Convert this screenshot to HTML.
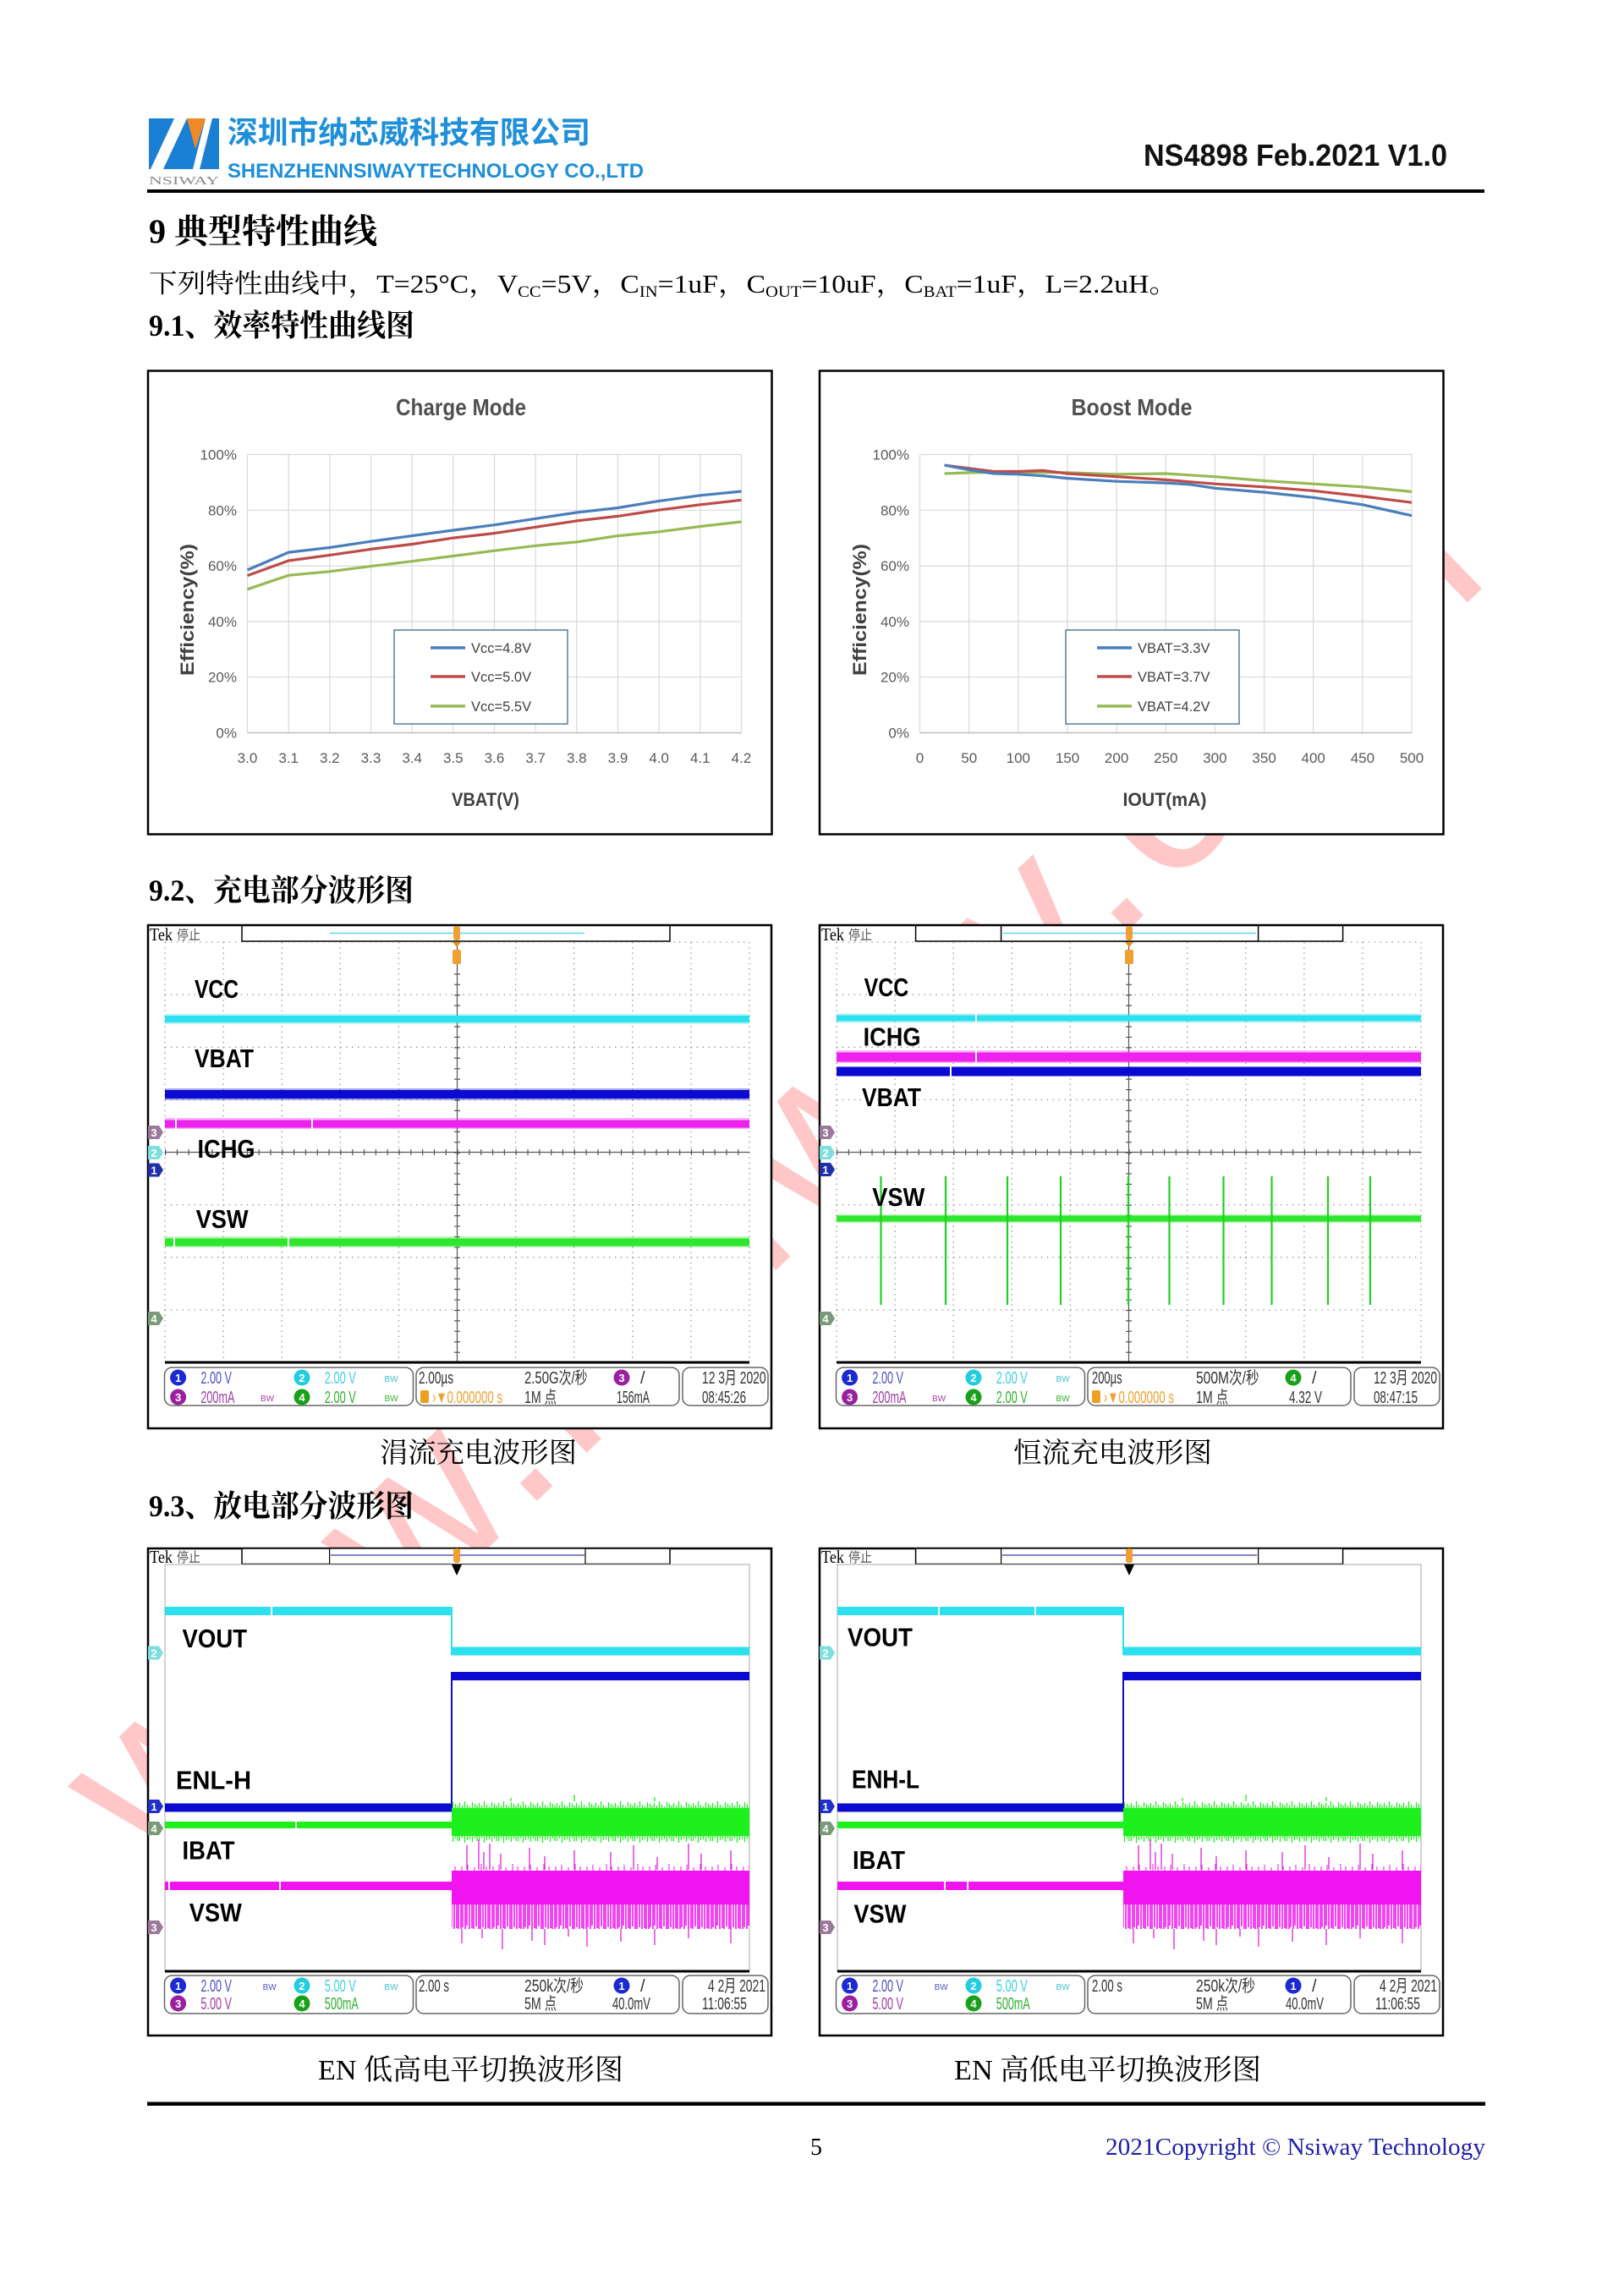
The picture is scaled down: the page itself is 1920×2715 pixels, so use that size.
<!DOCTYPE html>
<html><head><meta charset="utf-8"><style>
html,body{margin:0;padding:0;background:#fff;}
svg{display:block;}
</style></head><body>
<svg width="1920" height="2715" viewBox="0 0 1920 2715" xmlns="http://www.w3.org/2000/svg" xmlns:xlink="http://www.w3.org/1999/xlink">
<style>
.s{font-family:'Liberation Serif','Noto Serif CJK SC',serif;}
.a{font-family:'Liberation Sans','Noto Sans CJK SC',sans-serif;}
.lb{font-family:'Liberation Sans',sans-serif;font-weight:bold;font-size:31px;fill:#000;}
.i{font-family:'Liberation Sans','Noto Sans CJK SC',sans-serif;font-size:20px;}
.n{font-family:'Liberation Sans',sans-serif;font-size:13px;fill:#fff;text-anchor:middle;font-weight:bold;}
.bw{font-family:'Liberation Sans',sans-serif;font-size:10px;}
.tk{font-family:'Liberation Sans',sans-serif;font-size:17px;fill:#595959;}
.lg{font-family:'Liberation Sans',sans-serif;font-size:16.5px;fill:#404040;}
</style>
<defs>
<g id="grat">
 <g stroke="#8a8a8a" stroke-width="1.3" fill="none" stroke-dasharray="1.3 5.61">
  <path d="M21 21H712M21 83.1H712M21 145.3H712M21 207.4H712M21 331.6H712M21 393.8H712M21 455.9H712"/>
 </g>
 <g stroke="#8a8a8a" stroke-width="1.3" fill="none" stroke-dasharray="1.3 4.91">
  <path d="M21 21V518M90.1 21V518M159.2 21V518M228.3 21V518M297.4 21V518M435.6 21V518M504.7 21V518M573.8 21V518M642.9 21V518M712 21V518"/>
 </g>
 <path d="M366.5 21V518M21 269.5H712" stroke="#555" stroke-width="1.2" fill="none"/>
 <path d="M21 269.5H712" stroke="#555" stroke-width="7" stroke-dasharray="1.2 12.62" fill="none"/>
 <path d="M366.5 21V518" stroke="#555" stroke-width="7" stroke-dasharray="1.2 11.225" fill="none"/>
 <path d="M21 518H712" stroke="#000" stroke-width="3"/>
</g>
<pattern id="gb" x="0" y="300" width="23" height="50" patternUnits="userSpaceOnUse">
 <rect x="0" y="8" width="23" height="33" fill="#1ef01e"/>
 <path d="M1.5 2V47M4.5 5V44M7.5 0V49M10.5 4V46M13.5 6V45M16.5 1V48M19.5 3V44M22 5V47" stroke="#1ef01e" stroke-width="1.3"/>
</pattern>
<pattern id="mb" x="0" y="350" width="37" height="122" patternUnits="userSpaceOnUse">
 <rect x="0" y="32" width="37" height="40" fill="#f014f0"/>
 <path d="M1 72V101M3 72V99M6 72V101M8 72V97M11 72V101M14 72V100M16 72V101M19 72V98M22 72V101M24 72V101M27 72V99M30 72V101M33 72V100M35 72V101" stroke="#f014f0" stroke-width="1.6"/>
 <path d="M2 27V32M9 25V32M17 28V32M25 24V32M31 27V32" stroke="#f014f0" stroke-width="1"/>
</pattern>
<g id="sw">
 <rect x="360" y="300" width="352" height="50" fill="url(#gb)"/>
 <path d="M505 300V292M430 300V296M600 300V295" stroke="#1ef01e" stroke-width="1.3"/>
 <rect x="360" y="350" width="352" height="122" fill="url(#mb)"/>
 <path d="M378 381V352M392 381V345M398 381V360M405 381V350M418 381V362M452 381V355M470 381V365M505 381V358M548 381V360M575 381V352M603 381V366M640 381V350M655 381V362M690 381V358" stroke="#e020e0" stroke-width="1.3"/>
 <path d="M372 451V468M396 451V462M420 451V475M455 451V465M470 451V470M498 451V460M520 451V472M560 451V466M600 451V470M640 451V462M690 451V468" stroke="#e020e0" stroke-width="1.3"/>
</g>
</defs>

<rect width="1920" height="2715" fill="#fff"/>

<!-- watermark -->
<text transform="translate(179,2215) rotate(-44)" font-family="'Liberation Sans',sans-serif" font-size="270" letter-spacing="13" fill="#ff2020" fill-opacity="0.25">www.nsiway.com</text>

<!-- header -->
<rect x="176" y="140" width="83" height="60" fill="#1b7fd4"/>
<polygon points="206,140 221,140 193,200 178,200" fill="#fff"/>
<polygon points="221,140 243,140 231,176" fill="#f08a24"/>
<polygon points="243,140 251,140 236,200 228,200" fill="#fff"/>
<text x="176" y="218" class="s" font-size="14" fill="#8a8a8a" textLength="83" lengthAdjust="spacingAndGlyphs">NSIWAY</text>
<text x="269" y="169" class="a" font-weight="bold" font-size="36" fill="#1e8fd8" textLength="429" lengthAdjust="spacingAndGlyphs">深圳市纳芯威科技有限公司</text>
<text x="269" y="210" class="a" font-weight="bold" font-size="24" fill="#1e8fd8" textLength="492" lengthAdjust="spacingAndGlyphs">SHENZHENNSIWAYTECHNOLOGY CO.,LTD</text>
<text x="1352" y="196" class="a" font-weight="bold" font-size="36" fill="#111" textLength="359" lengthAdjust="spacingAndGlyphs">NS4898 Feb.2021 V1.0</text>
<rect x="174" y="224" width="1581" height="4" fill="#000"/>

<text x="176" y="287" class="s" font-weight="bold" font-size="40" fill="#000" textLength="270" lengthAdjust="spacingAndGlyphs">9 典型特性曲线</text>
<text x="176" y="346" class="s" font-size="31" fill="#000" textLength="1216" lengthAdjust="spacingAndGlyphs">下列特性曲线中，T=25°C，V<tspan dy="5" font-size="19">CC</tspan><tspan dy="-5">=5V，C</tspan><tspan dy="5" font-size="19">IN</tspan><tspan dy="-5">=1uF，C</tspan><tspan dy="5" font-size="19">OUT</tspan><tspan dy="-5">=10uF，C</tspan><tspan dy="5" font-size="19">BAT</tspan><tspan dy="-5">=1uF，L=2.2uH。</tspan></text>
<text x="176" y="397" class="s" font-weight="bold" font-size="36" fill="#000" textLength="314" lengthAdjust="spacingAndGlyphs">9.1、效率特性曲线图</text>

<!-- Charge mode chart -->
<rect x="175" y="438.5" width="737.5" height="548" fill="#fff" stroke="#000" stroke-width="2.5"/>
<text x="545" y="491" text-anchor="middle" class="a" font-weight="bold" font-size="28" fill="#505050" textLength="154" lengthAdjust="spacingAndGlyphs">Charge Mode</text>
<g stroke="#d9d9d9" stroke-width="1.2" fill="none">
<path d="M292.5 537.5V866.5M341.2 537.5V866.5M389.8 537.5V866.5M438.5 537.5V866.5M487.2 537.5V866.5M535.8 537.5V866.5M584.5 537.5V866.5M633.2 537.5V866.5M681.8 537.5V866.5M730.5 537.5V866.5M779.2 537.5V866.5M827.8 537.5V866.5M876.5 537.5V866.5"/>
<path d="M292.5 537.5H876.5M292.5 603.3H876.5M292.5 669.1H876.5M292.5 734.9H876.5M292.5 800.7H876.5"/>
</g>
<path d="M292.5 866.5H876.5" stroke="#bfbfbf" stroke-width="1.5"/>
<g class="tk" text-anchor="end">
<text x="280" y="543.5">100%</text><text x="280" y="609.3">80%</text><text x="280" y="675.1">60%</text><text x="280" y="740.9">40%</text><text x="280" y="806.7">20%</text><text x="280" y="872.5">0%</text>
</g>
<g class="tk" text-anchor="middle">
<text x="292.5" y="902">3.0</text><text x="341.2" y="902">3.1</text><text x="389.8" y="902">3.2</text><text x="438.5" y="902">3.3</text><text x="487.2" y="902">3.4</text><text x="535.8" y="902">3.5</text><text x="584.5" y="902">3.6</text><text x="633.2" y="902">3.7</text><text x="681.8" y="902">3.8</text><text x="730.5" y="902">3.9</text><text x="779.2" y="902">4.0</text><text x="827.8" y="902">4.1</text><text x="876.5" y="902">4.2</text>
</g>
<text x="574" y="953" text-anchor="middle" class="a" font-weight="bold" font-size="22" fill="#404040" textLength="80" lengthAdjust="spacingAndGlyphs">VBAT(V)</text>
<text transform="translate(229,721) rotate(-90)" text-anchor="middle" class="a" font-weight="bold" font-size="22" fill="#404040" textLength="156" lengthAdjust="spacingAndGlyphs">Efficiency(%)</text>
<g fill="none" stroke-width="3.2" stroke-linejoin="round">
<polyline stroke="#98b954" points="292.5,696.8 341.2,680.3 389.8,675.8 438.5,669.6 487.2,663.7 535.8,657.5 584.5,651.2 633.2,645.3 681.8,640.9 730.5,633.6 779.2,628.8 827.8,622.5 876.5,617"/>
<polyline stroke="#be4b48" points="292.5,680.6 341.2,663 389.8,656.4 438.5,649.4 487.2,643.5 535.8,636.1 584.5,630.6 633.2,623.3 681.8,615.9 730.5,610.4 779.2,603.1 827.8,596.8 876.5,591.3"/>
<polyline stroke="#4a7ebb" points="292.5,674 341.2,653.1 389.8,647.5 438.5,640.2 487.2,633.6 535.8,627 584.5,620.7 633.2,613.3 681.8,606 730.5,600.5 779.2,592.4 827.8,585.8 876.5,581"/>
</g>
<rect x="466" y="745" width="205" height="111" fill="#fff" stroke="#5a7a9a" stroke-width="1.5"/>
<path d="M509 766H550" stroke="#4a7ebb" stroke-width="3.5"/>
<path d="M509 800H550" stroke="#be4b48" stroke-width="3.5"/>
<path d="M509 835H550" stroke="#98b954" stroke-width="3.5"/>
<text x="557" y="772" class="lg">Vcc=4.8V</text>
<text x="557" y="806" class="lg">Vcc=5.0V</text>
<text x="557" y="841" class="lg">Vcc=5.5V</text>

<!-- Boost mode chart -->
<rect x="969" y="438.5" width="737.5" height="548" fill="#fff" stroke="#000" stroke-width="2.5"/>
<text x="1338" y="491" text-anchor="middle" class="a" font-weight="bold" font-size="28" fill="#505050" textLength="143" lengthAdjust="spacingAndGlyphs">Boost Mode</text>
<g stroke="#d9d9d9" stroke-width="1.2" fill="none">
<path d="M1087.5 537.5V866.5M1145.7 537.5V866.5M1203.8 537.5V866.5M1262 537.5V866.5M1320.1 537.5V866.5M1378.3 537.5V866.5M1436.4 537.5V866.5M1494.6 537.5V866.5M1552.7 537.5V866.5M1610.9 537.5V866.5M1669 537.5V866.5"/>
<path d="M1087.5 537.5H1669M1087.5 603.3H1669M1087.5 669.1H1669M1087.5 734.9H1669M1087.5 800.7H1669"/>
</g>
<path d="M1087.5 866.5H1669" stroke="#bfbfbf" stroke-width="1.5"/>
<g class="tk" text-anchor="end">
<text x="1075" y="543.5">100%</text><text x="1075" y="609.3">80%</text><text x="1075" y="675.1">60%</text><text x="1075" y="740.9">40%</text><text x="1075" y="806.7">20%</text><text x="1075" y="872.5">0%</text>
</g>
<g class="tk" text-anchor="middle">
<text x="1087.5" y="902">0</text><text x="1145.7" y="902">50</text><text x="1203.8" y="902">100</text><text x="1262" y="902">150</text><text x="1320.1" y="902">200</text><text x="1378.3" y="902">250</text><text x="1436.4" y="902">300</text><text x="1494.6" y="902">350</text><text x="1552.7" y="902">400</text><text x="1610.9" y="902">450</text><text x="1669" y="902">500</text>
</g>
<text x="1377" y="953" text-anchor="middle" class="a" font-weight="bold" font-size="22" fill="#404040" textLength="99" lengthAdjust="spacingAndGlyphs">IOUT(mA)</text>
<text transform="translate(1024,721) rotate(-90)" text-anchor="middle" class="a" font-weight="bold" font-size="22" fill="#404040" textLength="156" lengthAdjust="spacingAndGlyphs">Efficiency(%)</text>
<g fill="none" stroke-width="3.2" stroke-linejoin="round">
<polyline stroke="#98b954" points="1116.6,560 1145.7,558.9 1203.8,558.2 1262,558.9 1320.1,560.8 1378.3,560 1436.4,563.7 1494.6,568.5 1552.7,572.2 1610.9,575.8 1669,581.4"/>
<polyline stroke="#be4b48" points="1116.6,550.1 1145.7,553.8 1174.7,557.5 1203.8,557.5 1232.9,556.4 1262,560 1320.1,563.7 1378.3,567.4 1436.4,572.2 1494.6,575.8 1552.7,580.3 1610.9,586.9 1669,594.2"/>
<polyline stroke="#4a7ebb" points="1116.6,550.1 1145.7,555.6 1174.7,560 1203.8,560.8 1232.9,562.6 1262,565.6 1320.1,569.2 1378.3,571.1 1407.4,572.9 1436.4,577.3 1494.6,582.1 1552.7,588.3 1610.9,596.8 1669,609.7"/>
</g>
<rect x="1260" y="745" width="205" height="111" fill="#fff" stroke="#5a7a9a" stroke-width="1.5"/>
<path d="M1297 766H1338" stroke="#4a7ebb" stroke-width="3.5"/>
<path d="M1297 800H1338" stroke="#be4b48" stroke-width="3.5"/>
<path d="M1297 835H1338" stroke="#98b954" stroke-width="3.5"/>
<text x="1345" y="772" class="lg">VBAT=3.3V</text>
<text x="1345" y="806" class="lg">VBAT=3.7V</text>
<text x="1345" y="841" class="lg">VBAT=4.2V</text>

<text x="176" y="1065" class="s" font-weight="bold" font-size="36" fill="#000" textLength="313" lengthAdjust="spacingAndGlyphs">9.2、充电部分波形图</text>

<!-- Scope 1 -->
<g transform="translate(174,1093)">
 <rect x="1" y="1" width="737" height="595" fill="#fff" stroke="#000" stroke-width="2.5"/>
 <text x="3" y="19" class="s" font-size="21" textLength="27" lengthAdjust="spacingAndGlyphs">Tek</text>
 <text x="35" y="18" class="a" font-size="16" fill="#555" textLength="28" lengthAdjust="spacingAndGlyphs">停止</text>
 <rect x="112" y="1.5" width="506" height="18.5" fill="#fff" stroke="#000" stroke-width="1.5"/>
 <path d="M216 10.5H517" stroke="#5ad8e6" stroke-width="1.5"/>
 <use xlink:href="#grat" href="#grat"/>
 <rect x="362" y="2" width="8" height="17" rx="3" fill="#f0a030"/>
 <path d="M361 21h10l-5 6z" fill="#e89020"/>
 <rect x="361" y="30" width="10" height="17" rx="2" fill="#f0a030"/>
 <rect x="21" y="106" width="691" height="12" fill="#2ee0ee" opacity="0.35"/>
 <rect x="21" y="108" width="691" height="8" fill="#2ee0ee"/>
 <rect x="21" y="194" width="691" height="14" fill="#0a0ad0" opacity="0.35"/>
 <rect x="21" y="196" width="691" height="10" fill="#0a0ad0"/>
 <rect x="21" y="229" width="691" height="13" fill="#ee22ee" opacity="0.35"/>
 <rect x="21" y="231.5" width="691" height="9" fill="#ee22ee"/>
 <rect x="33" y="229" width="2" height="13" fill="#fff"/><rect x="194" y="229" width="2" height="13" fill="#fff"/>
 <rect x="21" y="369" width="691" height="13" fill="#2ee62e" opacity="0.35"/>
 <rect x="21" y="371.5" width="691" height="9" fill="#2ee62e"/>
 <rect x="31" y="369" width="2" height="13" fill="#fff"/><rect x="166" y="369" width="2" height="13" fill="#fff"/>
 <text x="56" y="87" class="lb" textLength="52" lengthAdjust="spacingAndGlyphs">VCC</text>
 <text x="56" y="169" class="lb" textLength="70" lengthAdjust="spacingAndGlyphs">VBAT</text>
 <text x="59.5" y="276" class="lb" textLength="68" lengthAdjust="spacingAndGlyphs">ICHG</text>
 <text x="57.6" y="359" class="lb" textLength="62" lengthAdjust="spacingAndGlyphs">VSW</text>
 <path d="M1 238h13l5 8l-5 8h-13z" fill="#9a7a9a"/><text x="8" y="251" class="n">3</text>
 <path d="M1 262h13l5 8l-5 8h-13z" fill="#7fdede"/><text x="8" y="275" class="n">2</text>
 <path d="M1 282.5h13l5 8l-5 8h-13z" fill="#2030a8"/><text x="8" y="295.5" class="n">1</text>
 <path d="M1 458h13l5 8l-5 8h-13z" fill="#7a9a7a"/><text x="8" y="471" class="n">4</text>
 <g fill="#fff" stroke="#666" stroke-width="1.5">
  <rect x="20.5" y="524" width="294" height="45" rx="9"/><rect x="318" y="524" width="311" height="45" rx="9"/><rect x="633" y="524" width="101" height="45" rx="9"/>
 </g>
 <circle cx="36.6" cy="536" r="9.5" fill="#1a2ad0"/><text x="36.6" y="541" class="n">1</text>
 <text x="63.4" y="543" class="i" fill="#5050c0" textLength="36.6" lengthAdjust="spacingAndGlyphs">2.00 V</text>
 <circle cx="183" cy="536" r="9.5" fill="#22cde0"/><text x="183" y="541" class="n">2</text>
 <text x="209.8" y="543" class="i" fill="#40d0e0" textLength="37" lengthAdjust="spacingAndGlyphs">2.00 V</text>
 <text x="280.5" y="541" class="bw" fill="#40c0d0">BW</text>
 <text x="321" y="543" class="i" fill="#333" textLength="41" lengthAdjust="spacingAndGlyphs">2.00µs</text>
 <text x="446" y="543" class="i" fill="#333" textLength="74.6" lengthAdjust="spacingAndGlyphs">2.50G次/秒</text>
 <circle cx="561" cy="536" r="9.5" fill="#9a20a0"/><text x="561" y="541" class="n">3</text>
 <text x="583" y="543" class="i" fill="#333">/</text>
 <text x="656" y="543" class="i" fill="#333" textLength="75.6" lengthAdjust="spacingAndGlyphs">12 3月 2020</text>
 <circle cx="36.6" cy="559" r="9.5" fill="#9a20a0"/><text x="36.6" y="564" class="n">3</text>
 <text x="63.4" y="566" class="i" fill="#a040a8" textLength="40" lengthAdjust="spacingAndGlyphs">200mA</text>
 <text x="134" y="564" class="bw" fill="#a040a8">BW</text>
 <circle cx="183" cy="559" r="9.5" fill="#18a018"/><text x="183" y="564" class="n">4</text>
 <text x="209.8" y="566" class="i" fill="#30b030" textLength="37" lengthAdjust="spacingAndGlyphs">2.00 V</text>
 <text x="280.5" y="564" class="bw" fill="#30b030">BW</text>
 <rect x="323" y="551" width="10" height="15" rx="2" fill="#f0a020"/>
 <text x="337" y="566" class="i" fill="#f0a030" textLength="83" lengthAdjust="spacingAndGlyphs">›▼0.000000 s</text>
 <text x="446" y="566" class="i" fill="#333" textLength="38" lengthAdjust="spacingAndGlyphs">1M 点</text>
 <text x="555" y="566" class="i" fill="#333" textLength="39" lengthAdjust="spacingAndGlyphs">156mA</text>
 <text x="656" y="566" class="i" fill="#333" textLength="52" lengthAdjust="spacingAndGlyphs">08:45:26</text>
</g>

<!-- Scope 2 -->
<g transform="translate(968,1093)">
 <rect x="1" y="1" width="737" height="595" fill="#fff" stroke="#000" stroke-width="2.5"/>
 <text x="3" y="19" class="s" font-size="21" textLength="27" lengthAdjust="spacingAndGlyphs">Tek</text>
 <text x="35" y="18" class="a" font-size="16" fill="#555" textLength="28" lengthAdjust="spacingAndGlyphs">停止</text>
 <rect x="114.6" y="1.5" width="505" height="18.5" fill="#fff" stroke="#000" stroke-width="1.5"/>
 <rect x="215.6" y="1.5" width="304" height="18.5" fill="#fff" stroke="#000" stroke-width="1.5"/>
 <path d="M218 10.5H517" stroke="#5ad8e6" stroke-width="1.5"/>
 <use xlink:href="#grat" href="#grat"/>
 <rect x="363" y="2" width="8" height="17" rx="3" fill="#f0a030"/>
 <path d="M362 21h10l-5 6z" fill="#e89020"/>
 <rect x="362" y="30" width="10" height="17" rx="2" fill="#f0a030"/>
 <rect x="21" y="105.5" width="691" height="11" fill="#2ee0ee" opacity="0.35"/>
 <rect x="21" y="107.5" width="691" height="7" fill="#2ee0ee"/>
 <rect x="185" y="105" width="2" height="12" fill="#fff"/>
 <rect x="21" y="149" width="691" height="15" fill="#ee22ee" opacity="0.35"/>
 <rect x="21" y="151.5" width="691" height="11" fill="#ee22ee"/>
 <rect x="185" y="149" width="2" height="14" fill="#fff"/>
 <rect x="21" y="168.5" width="691" height="11" fill="#0a0ad0"/>
 <rect x="155" y="167" width="2" height="13" fill="#fff"/>
 <rect x="21" y="343" width="691" height="10" fill="#2ee62e" opacity="0.35"/>
 <rect x="21" y="344.5" width="691" height="7" fill="#2ee62e"/>
 <path d="M73.5 298V450M150 298V450M223 298V450M286 298V450M366 298V450M414.5 298V450M478.5 298V450M535.5 298V450M602 298V450M652 298V450" stroke="#20d020" stroke-width="2.2"/>
 <text x="53.6" y="85" class="lb" textLength="52.6" lengthAdjust="spacingAndGlyphs">VCC</text>
 <text x="52.6" y="143.6" class="lb" textLength="68" lengthAdjust="spacingAndGlyphs">ICHG</text>
 <text x="51" y="215" class="lb" textLength="70" lengthAdjust="spacingAndGlyphs">VBAT</text>
 <text x="63.3" y="333" class="lb" textLength="62" lengthAdjust="spacingAndGlyphs">VSW</text>
 <path d="M1 238h13l5 8l-5 8h-13z" fill="#9a7a9a"/><text x="8" y="251" class="n">3</text>
 <path d="M1 262h13l5 8l-5 8h-13z" fill="#7fdede"/><text x="8" y="275" class="n">2</text>
 <path d="M1 282h13l5 8l-5 8h-13z" fill="#2030a8"/><text x="8" y="295" class="n">1</text>
 <path d="M1 458h13l5 8l-5 8h-13z" fill="#7a9a7a"/><text x="8" y="471" class="n">4</text>
 <g fill="#fff" stroke="#666" stroke-width="1.5">
  <rect x="20.5" y="524" width="294" height="45" rx="9"/><rect x="318" y="524" width="311" height="45" rx="9"/><rect x="633" y="524" width="101" height="45" rx="9"/>
 </g>
 <circle cx="36.6" cy="536" r="9.5" fill="#1a2ad0"/><text x="36.6" y="541" class="n">1</text>
 <text x="63.4" y="543" class="i" fill="#5050c0" textLength="36.6" lengthAdjust="spacingAndGlyphs">2.00 V</text>
 <circle cx="183" cy="536" r="9.5" fill="#22cde0"/><text x="183" y="541" class="n">2</text>
 <text x="209.8" y="543" class="i" fill="#40d0e0" textLength="37" lengthAdjust="spacingAndGlyphs">2.00 V</text>
 <text x="280.5" y="541" class="bw" fill="#40c0d0">BW</text>
 <text x="323" y="543" class="i" fill="#333" textLength="35.6" lengthAdjust="spacingAndGlyphs">200µs</text>
 <text x="446" y="543" class="i" fill="#333" textLength="74.6" lengthAdjust="spacingAndGlyphs">500M次/秒</text>
 <circle cx="561" cy="536" r="9.5" fill="#18a018"/><text x="561" y="541" class="n">4</text>
 <text x="583" y="543" class="i" fill="#333">/</text>
 <text x="656" y="543" class="i" fill="#333" textLength="75" lengthAdjust="spacingAndGlyphs">12 3月 2020</text>
 <circle cx="36.6" cy="559" r="9.5" fill="#9a20a0"/><text x="36.6" y="564" class="n">3</text>
 <text x="63.4" y="566" class="i" fill="#a040a8" textLength="40" lengthAdjust="spacingAndGlyphs">200mA</text>
 <text x="134" y="564" class="bw" fill="#a040a8">BW</text>
 <circle cx="183" cy="559" r="9.5" fill="#18a018"/><text x="183" y="564" class="n">4</text>
 <text x="209.8" y="566" class="i" fill="#30b030" textLength="37" lengthAdjust="spacingAndGlyphs">2.00 V</text>
 <text x="280.5" y="564" class="bw" fill="#30b030">BW</text>
 <rect x="323" y="551" width="10" height="15" rx="2" fill="#f0a020"/>
 <text x="337" y="566" class="i" fill="#f0a030" textLength="83" lengthAdjust="spacingAndGlyphs">›▼0.000000 s</text>
 <text x="446" y="566" class="i" fill="#333" textLength="38" lengthAdjust="spacingAndGlyphs">1M 点</text>
 <text x="556" y="566" class="i" fill="#333" textLength="39" lengthAdjust="spacingAndGlyphs">4.32 V</text>
 <text x="656" y="566" class="i" fill="#333" textLength="52" lengthAdjust="spacingAndGlyphs">08:47:15</text>
</g>

<text x="449" y="1729" class="s" font-size="33" fill="#000" textLength="233" lengthAdjust="spacingAndGlyphs">涓流充电波形图</text>
<text x="1198" y="1729" class="s" font-size="33" fill="#000" textLength="235" lengthAdjust="spacingAndGlyphs">恒流充电波形图</text>

<text x="176" y="1793" class="s" font-weight="bold" font-size="36" fill="#000" textLength="313" lengthAdjust="spacingAndGlyphs">9.3、放电部分波形图</text>

<!-- Scope 3 -->
<g transform="translate(174,1830)">
 <rect x="1" y="1" width="737" height="576" fill="#fff" stroke="#000" stroke-width="2.5"/>
 <text x="3" y="18" class="s" font-size="21" textLength="27" lengthAdjust="spacingAndGlyphs">Tek</text>
 <text x="35" y="17" class="a" font-size="16" fill="#555" textLength="28" lengthAdjust="spacingAndGlyphs">停止</text>
 <rect x="112" y="1" width="506" height="18.5" fill="#fff" stroke="#000" stroke-width="1.5"/>
 <rect x="215.6" y="1" width="302.4" height="18.5" fill="#fff" stroke="#000" stroke-width="1.2"/>
 <path d="M217 9H517" stroke="#3a3aa8" stroke-width="1.2"/>
 <rect x="21" y="20" width="691" height="481" fill="none" stroke="#aaa" stroke-width="1"/>
 <path d="M21 501H712" stroke="#000" stroke-width="3"/>
 <rect x="362" y="1" width="8" height="17" rx="3" fill="#f0a030"/>
 <path d="M360 20h12l-6 13z" fill="#000"/>
 <rect x="21" y="70" width="339" height="10" fill="#2ee0ee"/>
 <rect x="146" y="68" width="2" height="14" fill="#fff"/>
 <rect x="360" y="117.5" width="352" height="10" fill="#2ee0ee"/>
 <path d="M360 70V127" stroke="#2ee0ee" stroke-width="2"/>
 <rect x="360" y="147" width="352" height="10" fill="#0a0ad0"/>
 <path d="M360 147V312" stroke="#1010c0" stroke-width="2"/>
 <rect x="21" y="302.5" width="339" height="10" fill="#0a0ad0"/>
 <rect x="21" y="324" width="339" height="8" fill="#1ef01e"/>
 <rect x="175" y="322" width="2" height="12" fill="#fff"/>
 <rect x="21" y="395" width="339" height="10" fill="#f014f0"/>
 <rect x="25" y="393" width="2" height="14" fill="#fff"/><rect x="156" y="393" width="2" height="14" fill="#fff"/>
 <use xlink:href="#sw" href="#sw"/>
 <text x="41.5" y="118" class="lb" textLength="76.6" lengthAdjust="spacingAndGlyphs">VOUT</text>
 <text x="34" y="285.4" class="lb" textLength="89" lengthAdjust="spacingAndGlyphs">ENL-H</text>
 <text x="41.5" y="368.4" class="lb" textLength="62" lengthAdjust="spacingAndGlyphs">IBAT</text>
 <text x="49.8" y="442" class="lb" textLength="62" lengthAdjust="spacingAndGlyphs">VSW</text>
 <path d="M1 116.5h13l5 8l-5 8h-13z" fill="#7fdede"/><text x="8" y="129.5" class="n">2</text>
 <path d="M1 298h13l5 8l-5 8h-13z" fill="#2030c8"/><text x="8" y="311" class="n">1</text>
 <path d="M1 324h13l5 8l-5 8h-13z" fill="#7a9a7a"/><text x="8" y="337" class="n">4</text>
 <path d="M1 441h13l5 8l-5 8h-13z" fill="#9a7a9a"/><text x="8" y="454" class="n">3</text>
 <g fill="#fff" stroke="#666" stroke-width="1.5">
  <rect x="20.5" y="506" width="294" height="45" rx="9"/><rect x="318" y="506" width="311" height="45" rx="9"/><rect x="633" y="506" width="101" height="45" rx="9"/>
 </g>
 <circle cx="36.6" cy="518" r="9.5" fill="#1a2ad0"/><text x="36.6" y="523" class="n">1</text>
 <text x="63.4" y="525" class="i" fill="#5050c0" textLength="36.6" lengthAdjust="spacingAndGlyphs">2.00 V</text>
 <text x="136.6" y="523" class="bw" fill="#5050c0">BW</text>
 <circle cx="183" cy="518" r="9.5" fill="#22cde0"/><text x="183" y="523" class="n">2</text>
 <text x="209.8" y="525" class="i" fill="#40d0e0" textLength="37" lengthAdjust="spacingAndGlyphs">5.00 V</text>
 <text x="280.5" y="523" class="bw" fill="#40c0d0">BW</text>
 <text x="321" y="525" class="i" fill="#333" textLength="36" lengthAdjust="spacingAndGlyphs">2.00 s</text>
 <text x="446" y="525" class="i" fill="#333" textLength="70" lengthAdjust="spacingAndGlyphs">250k次/秒</text>
 <circle cx="561" cy="518" r="9.5" fill="#1a2ad0"/><text x="561" y="523" class="n">1</text>
 <text x="583" y="525" class="i" fill="#333">/</text>
 <text x="663" y="525" class="i" fill="#333" textLength="68" lengthAdjust="spacingAndGlyphs">4 2月 2021</text>
 <circle cx="36.6" cy="539" r="9.5" fill="#9a20a0"/><text x="36.6" y="544" class="n">3</text>
 <text x="63.4" y="546" class="i" fill="#a040a8" textLength="36.6" lengthAdjust="spacingAndGlyphs">5.00 V</text>
 <circle cx="183" cy="539" r="9.5" fill="#18a018"/><text x="183" y="544" class="n">4</text>
 <text x="209.8" y="546" class="i" fill="#30b030" textLength="40" lengthAdjust="spacingAndGlyphs">500mA</text>
 <text x="446" y="546" class="i" fill="#333" textLength="38" lengthAdjust="spacingAndGlyphs">5M 点</text>
 <text x="550" y="546" class="i" fill="#333" textLength="45" lengthAdjust="spacingAndGlyphs">40.0mV</text>
 <text x="656" y="546" class="i" fill="#333" textLength="53" lengthAdjust="spacingAndGlyphs">11:06:55</text>
</g>

<!-- Scope 4 -->
<g transform="translate(968,1830)">
 <rect x="1" y="1" width="737" height="576" fill="#fff" stroke="#000" stroke-width="2.5"/>
 <text x="3" y="18" class="s" font-size="21" textLength="27" lengthAdjust="spacingAndGlyphs">Tek</text>
 <text x="35" y="17" class="a" font-size="16" fill="#555" textLength="28" lengthAdjust="spacingAndGlyphs">停止</text>
 <rect x="114.6" y="1" width="505" height="18.5" fill="#fff" stroke="#000" stroke-width="1.5"/>
 <rect x="215.6" y="1" width="304" height="18.5" fill="#fff" stroke="#000" stroke-width="1.2"/>
 <path d="M217 9H518" stroke="#3a3aa8" stroke-width="1.2"/>
 <rect x="22" y="20" width="690" height="481" fill="none" stroke="#aaa" stroke-width="1"/>
 <path d="M22 501H712" stroke="#000" stroke-width="3"/>
 <rect x="363" y="1" width="8" height="17" rx="3" fill="#f0a030"/>
 <path d="M361 20h12l-6 13z" fill="#000"/>
 <rect x="22" y="70" width="338" height="10" fill="#2ee0ee"/>
 <rect x="141" y="68" width="2" height="14" fill="#fff"/><rect x="255" y="68" width="2" height="14" fill="#fff"/>
 <rect x="360" y="117.5" width="352" height="10" fill="#2ee0ee"/>
 <path d="M360 70V127" stroke="#2ee0ee" stroke-width="2"/>
 <rect x="360" y="147" width="352" height="10" fill="#0a0ad0"/>
 <path d="M360 147V312" stroke="#1010c0" stroke-width="2"/>
 <rect x="22" y="302.5" width="338" height="10" fill="#0a0ad0"/>
 <rect x="22" y="324" width="338" height="8" fill="#1ef01e"/>
 <rect x="22" y="395" width="338" height="10" fill="#f014f0"/>
 <rect x="148" y="393" width="2" height="14" fill="#fff"/><rect x="175" y="393" width="2" height="14" fill="#fff"/>
 <use xlink:href="#sw" href="#sw"/>
 <text x="34" y="116.6" class="lb" textLength="77" lengthAdjust="spacingAndGlyphs">VOUT</text>
 <text x="39" y="284.6" class="lb" textLength="80" lengthAdjust="spacingAndGlyphs">ENH-L</text>
 <text x="40" y="380" class="lb" textLength="62" lengthAdjust="spacingAndGlyphs">IBAT</text>
 <text x="41.4" y="443.5" class="lb" textLength="62" lengthAdjust="spacingAndGlyphs">VSW</text>
 <path d="M1 116.5h13l5 8l-5 8h-13z" fill="#7fdede"/><text x="8" y="129.5" class="n">2</text>
 <path d="M1 298h13l5 8l-5 8h-13z" fill="#2030c8"/><text x="8" y="311" class="n">1</text>
 <path d="M1 324h13l5 8l-5 8h-13z" fill="#7a9a7a"/><text x="8" y="337" class="n">4</text>
 <path d="M1 441h13l5 8l-5 8h-13z" fill="#9a7a9a"/><text x="8" y="454" class="n">3</text>
 <g fill="#fff" stroke="#666" stroke-width="1.5">
  <rect x="20.5" y="506" width="294" height="45" rx="9"/><rect x="318" y="506" width="311" height="45" rx="9"/><rect x="633" y="506" width="101" height="45" rx="9"/>
 </g>
 <circle cx="36.6" cy="518" r="9.5" fill="#1a2ad0"/><text x="36.6" y="523" class="n">1</text>
 <text x="63.4" y="525" class="i" fill="#5050c0" textLength="36.6" lengthAdjust="spacingAndGlyphs">2.00 V</text>
 <text x="136.6" y="523" class="bw" fill="#5050c0">BW</text>
 <circle cx="183" cy="518" r="9.5" fill="#22cde0"/><text x="183" y="523" class="n">2</text>
 <text x="209.8" y="525" class="i" fill="#40d0e0" textLength="37" lengthAdjust="spacingAndGlyphs">5.00 V</text>
 <text x="280.5" y="523" class="bw" fill="#40c0d0">BW</text>
 <text x="323" y="525" class="i" fill="#333" textLength="36" lengthAdjust="spacingAndGlyphs">2.00 s</text>
 <text x="446" y="525" class="i" fill="#333" textLength="70" lengthAdjust="spacingAndGlyphs">250k次/秒</text>
 <circle cx="561" cy="518" r="9.5" fill="#1a2ad0"/><text x="561" y="523" class="n">1</text>
 <text x="583" y="525" class="i" fill="#333">/</text>
 <text x="663" y="525" class="i" fill="#333" textLength="68" lengthAdjust="spacingAndGlyphs">4 2月 2021</text>
 <circle cx="36.6" cy="539" r="9.5" fill="#9a20a0"/><text x="36.6" y="544" class="n">3</text>
 <text x="63.4" y="546" class="i" fill="#a040a8" textLength="36.6" lengthAdjust="spacingAndGlyphs">5.00 V</text>
 <circle cx="183" cy="539" r="9.5" fill="#18a018"/><text x="183" y="544" class="n">4</text>
 <text x="209.8" y="546" class="i" fill="#30b030" textLength="40" lengthAdjust="spacingAndGlyphs">500mA</text>
 <text x="446" y="546" class="i" fill="#333" textLength="38" lengthAdjust="spacingAndGlyphs">5M 点</text>
 <text x="552" y="546" class="i" fill="#333" textLength="45" lengthAdjust="spacingAndGlyphs">40.0mV</text>
 <text x="658" y="546" class="i" fill="#333" textLength="53" lengthAdjust="spacingAndGlyphs">11:06:55</text>
</g>

<text x="376" y="2459" class="s" font-size="34" fill="#000" textLength="361" lengthAdjust="spacingAndGlyphs">EN 低高电平切换波形图</text>
<text x="1128" y="2459" class="s" font-size="34" fill="#000" textLength="363" lengthAdjust="spacingAndGlyphs">EN 高低电平切换波形图</text>

<!-- footer -->
<rect x="174" y="2485.5" width="1582" height="4.5" fill="#000"/>
<text x="958" y="2548" class="s" font-size="28" fill="#000">5</text>
<text x="1307" y="2548" class="s" font-size="28" fill="#1f1fa8" textLength="449" lengthAdjust="spacingAndGlyphs">2021Copyright © Nsiway Technology</text>
</svg>
</body></html>
